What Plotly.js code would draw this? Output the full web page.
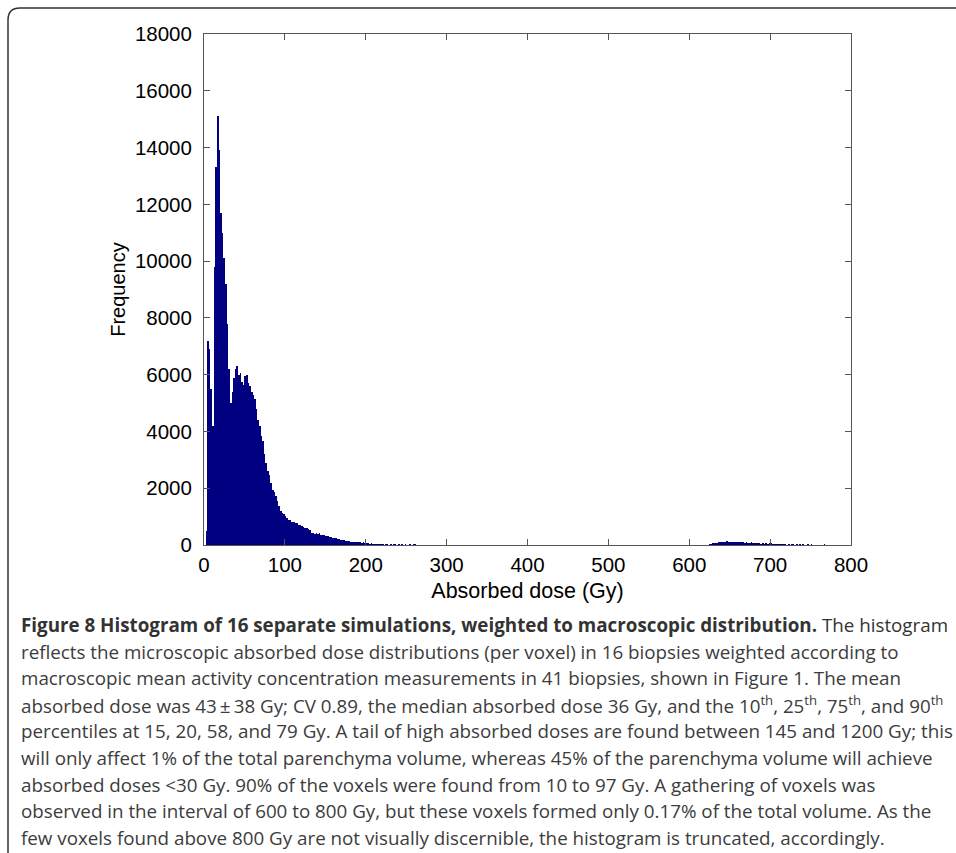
<!DOCTYPE html>
<html>
<head>
<meta charset="utf-8">
<script src="https://cdn.plot.ly/plotly-3.0.1.min.js"></script>
<style>
  html, body { margin: 0; padding: 0; background: #fff; }
  #chart { width: 956px; height: 853px; }
</style>
</head>
<body>
<div id="chart"></div>
<script>
// ---- data ----
// bin width (Gy) and start of each block of bins
const binWidth = 2;
const mainStart = 0;      // first bin of main block starts at 0 Gy
const mainCounts = [
  0, 500, 7200, 6900, 5500, 4200, 9800, 13300, 15100, 13900,
  11700, 11000, 10100, 9200, 7800, 6200, 5000, 5400, 5900, 6200,
  6300, 6000, 6050, 5750, 5650, 5950, 6000, 5700, 5600, 5400,
  5300, 5150, 4800, 4400, 4200, 3850, 3650, 3200, 2900, 2600,
  2450, 2200, 1950, 1880, 1720, 1550, 1380, 1200, 1130, 1080,
  1010, 940, 880, 870, 820, 810, 770, 760, 700, 710,
  660, 640, 590, 610, 560, 540, 430, 420, 400, 420,
  390, 410, 370, 360, 350, 330, 310, 290, 280, 250,
  240, 230, 210, 200, 180, 160, 170, 140, 130, 150,
  120, 110, 120, 100, 110, 90, 100, 80, 90, 70,
  60, 70, 50, 60, 50, 40, 50, 40, 30, 40,
  30, 0, 30, 30, 0, 30, 0, 30, 30, 0,
  30, 0, 30, 0, 30, 0, 0, 30, 0, 30, 30, 0
];
const tailStart = 620;    // gathering of voxels between 600 and 800 Gy
const tailCounts = [
  0, 0, 30, 50, 60, 70, 60, 80, 90, 100,
  110, 120, 110, 130, 120, 110, 120, 110, 100, 110,
  100, 90, 110, 90, 80, 90, 70, 80, 90, 70,
  60, 70, 60, 60, 50, 60, 50, 70, 50, 60,
  70, 50, 40, 40, 50, 40, 40, 30, 40, 30,
  0, 30, 0, 30, 30, 0, 30, 0, 30, 0,
  30, 0, 0, 30, 0, 30, 0, 0, 0, 0,
  0, 0, 0, 30, 0, 0
];
const xTicks = [0, 100, 200, 300, 400, 500, 600, 700, 800];
const yTicks = [0, 2000, 4000, 6000, 8000, 10000, 12000, 14000, 16000, 18000];
const xLabel = 'Absorbed dose (Gy)';
const yLabel = 'Frequency';
const captionLines = [
  '<b>Figure 8 Histogram of 16 separate simulations, weighted to macroscopic distribution.</b> The histogram',
  'reflects the microscopic absorbed dose distributions (per voxel) in 16 biopsies weighted according to',
  'macroscopic mean activity concentration measurements in 41 biopsies, shown in Figure 1. The mean',
  'absorbed dose was 43\u2009±\u200938 Gy; CV 0.89, the median absorbed dose 36 Gy, and the 10<sup>th</sup>, 25<sup>th</sup>, 75<sup>th</sup>, and 90<sup>th</sup>',
  'percentiles at 15, 20, 58, and 79 Gy. A tail of high absorbed doses are found between 145 and 1200 Gy; this',
  'will only affect 1% of the total parenchyma volume, whereas 45% of the parenchyma volume will achieve',
  'absorbed doses &lt;30 Gy. 90% of the voxels were found from 10 to 97 Gy. A gathering of voxels was',
  'observed in the interval of 600 to 800 Gy, but these voxels formed only 0.17% of the total volume. As the',
  'few voxels found above 800 Gy are not visually discernible, the histogram is truncated, accordingly.'
];

// ---- build bins ----
function centers(start, n) {
  const c = [];
  for (let i = 0; i < n; i++) c.push(start + binWidth * (i + 0.5));
  return c;
}
const xs = centers(mainStart, mainCounts.length).concat(centers(tailStart, tailCounts.length));
const ys = mainCounts.concat(tailCounts);

// ---- layout geometry (pixels) ----
const W = 956, H = 853;
const L = 204, R = 851, T = 34, B = 545;
const pw = R - L, ph = B - T;
const px = x => (x - L) / pw;
const py = y => (B - y) / ph;

const annotations = captionLines.map((t, i) => ({
  text: t,
  xref: 'paper', yref: 'paper',
  x: px(19), y: py(625 + i * 26.6),
  xanchor: 'left', yanchor: 'middle',
  showarrow: false,
  align: 'left',
  font: { family: 'Open Sans, sans-serif', size: 18.8, color: i === 0 ? '#333' : '#3c3c3c' }
}));

const framePath = `M ${px(8)},${py(860)} L ${px(8)},${py(20)} Q ${px(8)},${py(8)} ${px(20)},${py(8)} L ${px(965)},${py(8)}`;

const layout = {
  width: W, height: H,
  margin: { l: L, r: W - R, t: T, b: H - B, pad: 0 },
  paper_bgcolor: '#fff', plot_bgcolor: '#fff',
  showlegend: false,
  bargap: 0,
  font: { family: 'Liberation Sans, Arial, sans-serif', size: 20, color: '#000' },
  xaxis: {
    range: [0, 800], tickvals: xTicks, ticktext: xTicks.map(String),
    ticks: 'inside', ticklen: 6, tickcolor: '#555', tickwidth: 1,
    showline: true, linecolor: '#555', linewidth: 1, mirror: 'ticks',
    showgrid: false, zeroline: false, fixedrange: true,
    tickfont: { size: 20.5, color: '#000' },
    ticklabelstandoff: 1,
    title: { text: xLabel, standoff: 8, font: { size: 21.5, color: '#000' } },
    automargin: false
  },
  yaxis: {
    range: [0, 18000], tickvals: yTicks, ticktext: yTicks.map(String),
    ticks: 'inside', ticklen: 6, tickcolor: '#555', tickwidth: 1,
    showline: true, linecolor: '#555', linewidth: 1, mirror: 'ticks',
    showgrid: false, zeroline: false, fixedrange: true,
    tickfont: { size: 20.5, color: '#000' },
    ticklabelstandoff: 7,
    title: { text: yLabel, standoff: 3, font: { size: 20, color: '#000' } },
    automargin: false
  },
  shapes: [{
    type: 'path', xref: 'paper', yref: 'paper', path: framePath,
    line: { color: '#333', width: 1.5 }, layer: 'above'
  }],
  annotations: annotations
};

const trace = {
  type: 'bar', x: xs, y: ys, width: binWidth,
  marker: { color: '#000080', line: { width: 0 } },
  hoverinfo: 'x+y'
};

Plotly.newPlot('chart', [trace], layout, { staticPlot: true, displayModeBar: false });
</script>
</body>
</html>
